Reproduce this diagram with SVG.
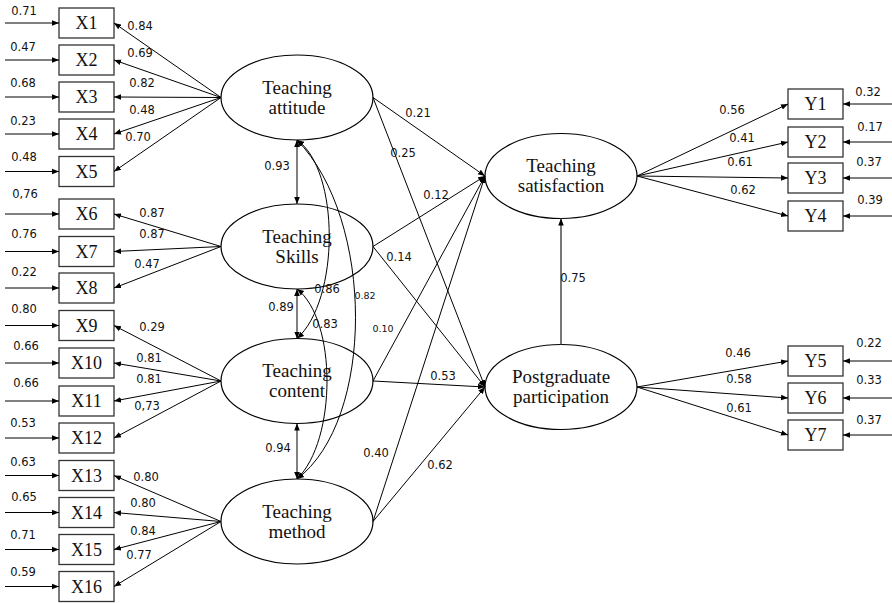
<svg xmlns="http://www.w3.org/2000/svg" width="892" height="603" viewBox="0 0 892 603">
<defs>
<marker id="ah" viewBox="0 0 10 10" refX="10" refY="5" markerWidth="7" markerHeight="7" markerUnits="userSpaceOnUse" orient="auto-start-reverse"><path d="M0,1 L10,5 L0,9 z" fill="#000"/></marker>
</defs>
<style>
.box{fill:#fff;stroke:#333;stroke-width:1.3}
.lat{fill:#fff;stroke:#000;stroke-width:1.2}
.ln{fill:none;stroke:#000;stroke-width:1;marker-end:url(#ah)}
.dbl{fill:none;stroke:#000;stroke-width:1;marker-start:url(#ah);marker-end:url(#ah)}
.bt{font-family:"Liberation Serif",serif;font-size:18px;text-anchor:middle;fill:#111}
.et{font-family:"Liberation Serif",serif;font-size:19px;text-anchor:middle;fill:#111}
.n{font-family:"DejaVu Sans",Verdana,sans-serif;font-size:11.5px;text-anchor:middle;fill:#111}
.s{font-size:9.5px}
</style>
<rect width="892" height="603" fill="#fff"/>

<g id="X1"><rect class="box" x="59" y="8" width="55" height="30"/><text class="bt" x="86.5" y="29">X1</text></g>
<g id="X2"><rect class="box" x="59" y="45" width="55" height="30"/><text class="bt" x="86.5" y="66">X2</text></g>
<g id="X3"><rect class="box" x="59" y="82" width="55" height="30"/><text class="bt" x="86.5" y="103">X3</text></g>
<g id="X4"><rect class="box" x="59" y="119" width="55" height="30"/><text class="bt" x="86.5" y="140">X4</text></g>
<g id="X5"><rect class="box" x="59" y="156.5" width="55" height="30"/><text class="bt" x="86.5" y="177.5">X5</text></g>
<g id="X6"><rect class="box" x="59" y="199" width="55" height="30"/><text class="bt" x="86.5" y="220">X6</text></g>
<g id="X7"><rect class="box" x="59" y="236.5" width="55" height="30"/><text class="bt" x="86.5" y="257.5">X7</text></g>
<g id="X8"><rect class="box" x="59" y="273" width="55" height="30"/><text class="bt" x="86.5" y="294">X8</text></g>
<g id="X9"><rect class="box" x="59" y="310.5" width="55" height="30"/><text class="bt" x="86.5" y="331.5">X9</text></g>
<g id="X10"><rect class="box" x="59" y="348" width="55" height="30"/><text class="bt" x="86.5" y="369">X10</text></g>
<g id="X11"><rect class="box" x="59" y="386" width="55" height="30"/><text class="bt" x="86.5" y="407">X11</text></g>
<g id="X12"><rect class="box" x="59" y="423" width="55" height="30"/><text class="bt" x="86.5" y="444">X12</text></g>
<g id="X13"><rect class="box" x="59" y="460.5" width="55" height="30"/><text class="bt" x="86.5" y="481.5">X13</text></g>
<g id="X14"><rect class="box" x="59" y="497.5" width="55" height="30"/><text class="bt" x="86.5" y="518.5">X14</text></g>
<g id="X15"><rect class="box" x="59" y="534.5" width="55" height="30"/><text class="bt" x="86.5" y="555.5">X15</text></g>
<g id="X16"><rect class="box" x="59" y="571.5" width="55" height="30"/><text class="bt" x="86.5" y="592.5">X16</text></g>

<g id="Y1"><rect class="box" x="788" y="89" width="55" height="30"/><text class="bt" x="815.5" y="110">Y1</text></g>
<g id="Y2"><rect class="box" x="788" y="127" width="55" height="30"/><text class="bt" x="815.5" y="148">Y2</text></g>
<g id="Y3"><rect class="box" x="788" y="163" width="55" height="30"/><text class="bt" x="815.5" y="184">Y3</text></g>
<g id="Y4"><rect class="box" x="788" y="201" width="55" height="30"/><text class="bt" x="815.5" y="222">Y4</text></g>
<g id="Y5"><rect class="box" x="788" y="346" width="55" height="30"/><text class="bt" x="815.5" y="367">Y5</text></g>
<g id="Y6"><rect class="box" x="788" y="383" width="55" height="30"/><text class="bt" x="815.5" y="404">Y6</text></g>
<g id="Y7"><rect class="box" x="788" y="420" width="55" height="30"/><text class="bt" x="815.5" y="441">Y7</text></g>

<g id="attitude"><ellipse class="lat" cx="297" cy="97.5" rx="76" ry="42.5"/><text class="et" x="297" y="93.5">Teaching</text><text class="et" x="297" y="113.5">attitude</text></g>
<g id="skills"><ellipse class="lat" cx="297" cy="246.5" rx="76" ry="42.5"/><text class="et" x="297" y="242.5">Teaching</text><text class="et" x="297" y="262.5">Skills</text></g>
<g id="content"><ellipse class="lat" cx="297" cy="381" rx="76" ry="42.5"/><text class="et" x="297" y="377">Teaching</text><text class="et" x="297" y="397">content</text></g>
<g id="method"><ellipse class="lat" cx="297" cy="521.5" rx="76" ry="42.5"/><text class="et" x="297" y="517.5">Teaching</text><text class="et" x="297" y="537.5">method</text></g>
<g id="satisfaction"><ellipse class="lat" cx="561" cy="176" rx="76" ry="42.5"/><text class="et" x="561" y="172">Teaching</text><text class="et" x="561" y="192">satisfaction</text></g>
<g id="participation"><ellipse class="lat" cx="561" cy="387" rx="76" ry="42.5"/><text class="et" x="561" y="383">Postgraduate</text><text class="et" x="561" y="403">participation</text></g>

<g id="connectors">
<path class="ln" d="M5,23H59"/><path class="ln" d="M5,60H59"/><path class="ln" d="M5,97H59"/><path class="ln" d="M5,134H59"/>
<path class="ln" d="M5,171.5H59"/><path class="ln" d="M5,214H59"/><path class="ln" d="M5,251.5H59"/><path class="ln" d="M5,288H59"/>
<path class="ln" d="M5,325.5H59"/><path class="ln" d="M5,363H59"/><path class="ln" d="M5,401H59"/><path class="ln" d="M5,438H59"/>
<path class="ln" d="M5,475.5H59"/><path class="ln" d="M5,512.5H59"/><path class="ln" d="M5,549.5H59"/><path class="ln" d="M5,586.5H59"/>

<path class="ln" d="M221,97.5L114,23"/><path class="ln" d="M221,97.5L114,60"/><path class="ln" d="M221,97.5L114,97"/><path class="ln" d="M221,97.5L114,134"/><path class="ln" d="M221,97.5L114,171.5"/>
<path class="ln" d="M221,246.5L114,214"/><path class="ln" d="M221,246.5L114,251.5"/><path class="ln" d="M221,246.5L114,288"/>
<path class="ln" d="M221,381L114,325.5"/><path class="ln" d="M221,381L114,363"/><path class="ln" d="M221,381L114,401"/><path class="ln" d="M221,381L114,438"/>
<path class="ln" d="M221,521.5L114,475.5"/><path class="ln" d="M221,521.5L114,512.5"/><path class="ln" d="M221,521.5L114,549.5"/><path class="ln" d="M221,521.5L114,586.5"/>

<path class="dbl" d="M297,140V204"/>
<path class="dbl" d="M297,289V338.5"/>
<path class="dbl" d="M297,423.5V479"/>
<path class="dbl" d="M297,140C340,170 340,300 297,338.5"/>
<path class="dbl" d="M297,289C337,320 337,440 297,479"/>
<path class="dbl" d="M297,140C375,220 375,420 297,479"/>

<path class="ln" d="M373,97.5L485,176"/><path class="ln" d="M373,97.5L485,387"/>
<path class="ln" d="M373,246.5L485,176"/><path class="ln" d="M373,246.5L485,387"/>
<path class="ln" d="M373,381L485,176"/><path class="ln" d="M373,381L485,387"/>
<path class="ln" d="M373,521.5L485,176"/><path class="ln" d="M373,521.5L485,387"/>

<path class="ln" d="M561,344.5V218.5" style="stroke:#555;stroke-width:1.6"/>

<path class="ln" d="M637,176L788,104"/><path class="ln" d="M637,176L788,142"/><path class="ln" d="M637,176L788,178"/><path class="ln" d="M637,176L788,216"/>
<path class="ln" d="M637,387L788,361"/><path class="ln" d="M637,387L788,398"/><path class="ln" d="M637,387L788,435"/>

<path class="ln" d="M892,104H843"/><path class="ln" d="M892,142H843"/><path class="ln" d="M892,178H843"/><path class="ln" d="M892,216H843"/>
<path class="ln" d="M892,361H843"/><path class="ln" d="M892,398H843"/><path class="ln" d="M892,435H843"/>
</g>

<g id="labels">
<text class="n" x="24" y="15">0.71</text><text class="n" x="23" y="51">0.47</text><text class="n" x="23" y="87">0.68</text><text class="n" x="23" y="125">0.23</text>
<text class="n" x="24" y="161">0.48</text><text class="n" x="25" y="198">0,76</text><text class="n" x="24" y="238">0.76</text><text class="n" x="24" y="276">0.22</text>
<text class="n" x="24" y="313">0.80</text><text class="n" x="26" y="350">0.66</text><text class="n" x="26" y="387">0.66</text><text class="n" x="23" y="427">0.53</text>
<text class="n" x="23" y="466">0.63</text><text class="n" x="24" y="501">0.65</text><text class="n" x="23" y="539">0.71</text><text class="n" x="23" y="576">0.59</text>

<text class="n" x="140" y="30">0.84</text><text class="n" x="140" y="57">0.69</text><text class="n" x="142" y="87">0.82</text><text class="n" x="142" y="114">0.48</text><text class="n" x="138" y="141">0.70</text>
<text class="n" x="152" y="217">0.87</text><text class="n" x="152" y="238">0.87</text><text class="n" x="147" y="268">0.47</text>
<text class="n" x="152" y="331">0.29</text><text class="n" x="149" y="362">0.81</text><text class="n" x="149" y="383">0.81</text><text class="n" x="147" y="410">0,73</text>
<text class="n" x="146" y="481">0.80</text><text class="n" x="143" y="507">0.80</text><text class="n" x="143" y="535">0.84</text><text class="n" x="139" y="559">0.77</text>

<text class="n" x="277" y="170">0.93</text><text class="n" x="281" y="311">0.89</text><text class="n" x="278" y="452">0.94</text>
<text class="n" x="327" y="293">0.86</text><text class="n s" x="365" y="299">0.82</text><text class="n" x="325" y="328">0.83</text>

<text class="n" x="418" y="117">0.21</text><text class="n" x="403" y="157">0.25</text><text class="n" x="436" y="199">0.12</text><text class="n" x="399" y="261">0.14</text>
<text class="n s" x="383" y="332">0.10</text><text class="n" x="443" y="380">0.53</text><text class="n" x="376" y="457">0.40</text><text class="n" x="440" y="469">0.62</text>
<text class="n" x="573" y="282">0.75</text>

<text class="n" x="732" y="114">0.56</text><text class="n" x="742" y="142">0.41</text><text class="n" x="740" y="166">0.61</text><text class="n" x="743" y="194">0.62</text>
<text class="n" x="738" y="357">0.46</text><text class="n" x="739" y="383">0.58</text><text class="n" x="739" y="412">0.61</text>

<text class="n" x="868" y="96">0.32</text><text class="n" x="870" y="131">0.17</text><text class="n" x="869" y="166">0.37</text><text class="n" x="870" y="204">0.39</text>
<text class="n" x="869" y="347">0.22</text><text class="n" x="869" y="384">0.33</text><text class="n" x="869" y="424">0.37</text>
</g>
</svg>
